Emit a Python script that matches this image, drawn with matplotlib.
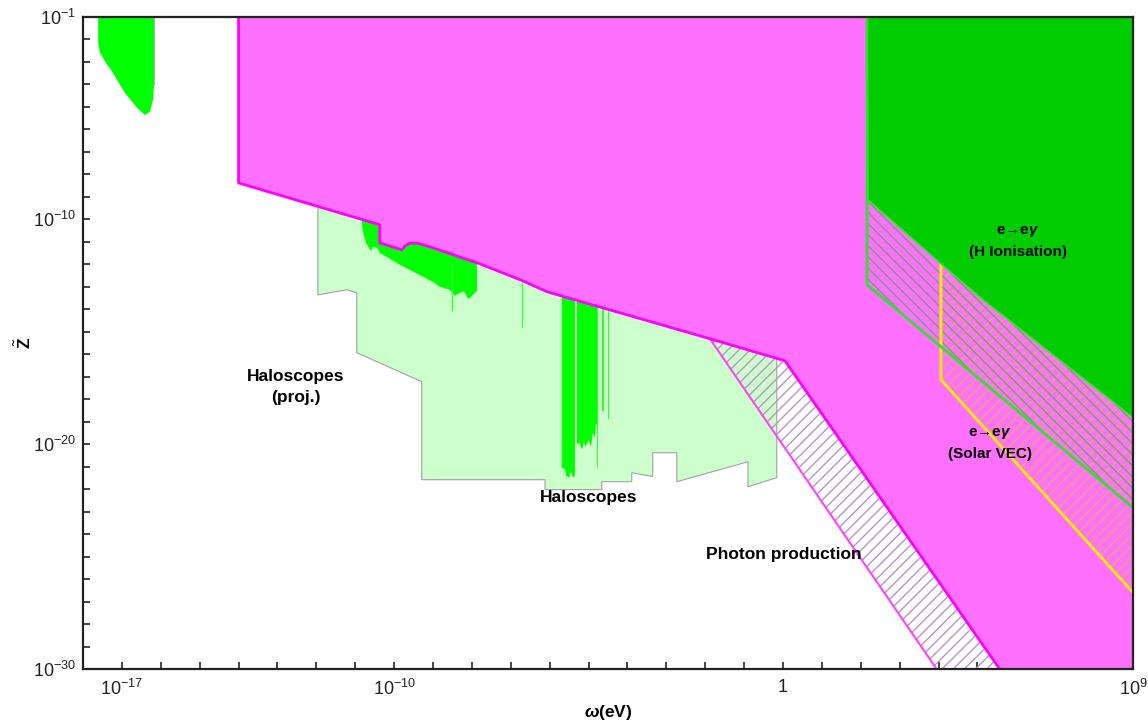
import numpy as np
import matplotlib
matplotlib.use("Agg")
import matplotlib.pyplot as plt
from matplotlib.ticker import FixedLocator, FuncFormatter, NullLocator

plt.rcParams.update({
    "font.family": ["Liberation Sans", "DejaVu Sans"],
    "mathtext.fontset": "custom",
    "mathtext.rm": "Liberation Sans",
    "mathtext.it": "Liberation Sans:italic:bold",
    "mathtext.bf": "Liberation Sans:bold",
    "hatch.linewidth": 1.0,
})

# all values are exponents: log10(omega / eV), log10(Z~)
# photon production bound (magenta), lower edge
mag_x = [-14.0, -14.0, -10.37, -10.37, -9.80, -9.72, -9.60, -9.40, -9.08, -7.87, -6.71, -6.07, -1.88, 0.05, 5.57]
mag_y = [-1.0, -8.38, -10.24, -11.04, -11.36, -11.18, -11.06, -11.06, -11.22, -11.93, -12.72, -13.22, -15.31, -16.29, -30.0]

# photon production, hatched band
php_x = [-1.88, 0.05, 5.57, 3.95]
php_y = [-15.31, -16.29, -30.0, -30.0]

# haloscopes (projected), light green
hpr_x = [-11.96, -11.96, -11.21, -10.96, -10.96, -9.29, -9.29, -6.12, -6.12, -4.66, -4.66, -3.89, -3.89,
         -3.35, -3.35, -2.73, -2.73, -0.90, -0.90, -0.16, -0.16]
hpr_y = [-6.9, -13.36, -13.13, -13.27, -15.93, -17.22, -21.58, -21.58, -22.02, -22.02, -21.67, -21.67, -21.27,
         -21.44, -20.38, -20.38, -21.67, -20.78, -21.89, -21.49, -6.9]

# existing limits, bright green
blob_x = [-17.61, -17.61, -17.56, -17.38, -17.31, -16.92, -16.61, -16.41, -16.28, -16.20, -16.17, -16.17]
blob_y = [-1.0, -2.16, -2.60, -3.13, -3.27, -4.38, -5.04, -5.36, -5.22, -4.69, -4.02, -1.0]

band_x = [-10.83, -10.37, -7.87, -7.87, -8.05, -8.10, -8.20, -8.31, -8.44, -8.57, -8.82, -9.00, -9.85,
          -10.37, -10.44, -10.54, -10.60, -10.65, -10.72, -10.78, -10.83]
band_y = [-9.80, -9.93, -11.58, -13.18, -13.49, -13.53, -13.20, -13.27, -13.40, -13.13, -13.0, -12.78, -12.02,
          -11.49, -11.27, -11.22, -11.40, -11.27, -11.04, -10.69, -10.24]

bar1_x = [-5.69, -5.35, -5.35, -5.40, -5.45, -5.50, -5.58, -5.60, -5.69]
bar1_y = [-12.5, -12.5, -21.40, -21.49, -21.22, -21.49, -21.40, -21.13, -21.04]

bar2_x = [-5.30, -4.76, -4.76, -4.81, -4.84, -4.89, -4.94, -5.00, -5.07, -5.12, -5.17, -5.24, -5.30]
bar2_y = [-12.5, -12.5, -19.04, -19.13, -19.71, -19.49, -20.11, -19.80, -20.11, -19.93, -20.24, -19.93, -20.02]

spike_x = [-8.51, -6.71, -4.63, -4.50, -4.78]
spike_y = [-14.02, -14.78, -18.47, -18.82, -21.0]
spike_w = [1.0, 0.8, 1.6, 0.8, 0.7]

# e -> e gamma, H ionisation
hion_x = [2.16, 9.0, 9.0, 2.16]
hion_y = [-1.0, -1.0, -22.82, -12.91]
hdark_x = [2.16, 9.0, 9.0, 5.14, 4.03, 2.18]
hdark_y = [-1.0, -1.0, -18.82, -13.58, -11.93, -9.13]

# e -> e gamma, solar VEC
svec_x = [4.06, 9.0, 9.0, 4.06]
svec_y = [-1.0, -1.0, -26.6, -17.13]
svec_line_x = [4.06, 4.06, 9.0]
svec_line_y = [-11.93, -17.13, -26.6]

xlabels = {-17: r"$10^{-17}$", -10: r"$10^{-10}$", 0: "1", 9: r"$10^{9}$"}
ylabels = {-1: r"$10^{-1}$", -10: r"$10^{-10}$", -20: r"$10^{-20}$", -30: r"$10^{-30}$"}


def p(v):
    return 10.0 ** np.asarray(v, dtype=float)


fig = plt.figure(figsize=(11.48, 7.22), dpi=100)
ax = fig.add_axes([83 / 1148, 53 / 722, 1050 / 1148, 652 / 722])
ax.set_xscale("log"); ax.set_yscale("log")

ax.fill(p(hpr_x), p(hpr_y), facecolor="#CCFFCC", edgecolor="#A0A0A0", lw=0.8, zorder=1)
for xs, ys in [(blob_x, blob_y), (band_x, band_y), (bar1_x, bar1_y), (bar2_x, bar2_y)]:
    ax.fill(p(xs), p(ys), facecolor="#00FF00", edgecolor="none", zorder=2)
for sx, sy, sw in zip(spike_x, spike_y, spike_w):
    ax.plot(p([sx, sx]), p([-12.0, sy]), color="#33FF33", lw=sw, zorder=2)
ax.plot(p([-16.17, -16.17]), p([-1.0, -4.02]), color="#B0B0B0", lw=0.8, zorder=2)

ax.fill(p(mag_x + [9.0, 9.0]), p(mag_y + [-30.0, -1.0]), facecolor="#FF70FF", edgecolor="none", zorder=3)
ax.fill(p(php_x), p(php_y), fill=False, hatch="///", edgecolor="#B496C8", lw=0, zorder=3.5)
ax.plot(p(php_x[:1] + php_x[3:]), p(php_y[:1] + php_y[3:]), color="#FF44FF", lw=1.5, zorder=3.6)

ax.fill(p(svec_x), p(svec_y), fill=False, hatch="///", edgecolor="#E2A868", lw=0, zorder=4)
ax.fill(p(hion_x), p(hion_y), fill=False, hatch="\\\\\\", edgecolor="#70A070", lw=0, zorder=4.1)
ax.plot(p(svec_line_x), p(svec_line_y), color="#FFEE00", lw=2, zorder=4.5)
ax.fill(p(hdark_x), p(hdark_y), facecolor="#00CC00", edgecolor="#44DD44", lw=1.2, zorder=5)
ax.plot(p([2.16, 2.16, 9.0]), p([-1.0, -12.91, -22.82]), color="#33DD33", lw=2, zorder=6)

ax.plot(p(mag_x), p(mag_y), color="#FF00FF", lw=2, zorder=6)

tk = dict(ha="center", va="center", fontweight="bold", zorder=8)
ax.text(p(-12.52), p(-17.44), "Haloscopes\n(proj.)", fontsize=12.5, linespacing=1.5, **tk)
ax.text(p(-4.99), p(-22.38), "Haloscopes", fontsize=12.5, **tk)
ax.text(p(0.02), p(-24.91), "Photon production", fontsize=12.5, **tk)
ax.text(p(6.04), p(-10.98), "e→e$\\mathit{\\gamma}$\n(H Ionisation)", fontsize=11, linespacing=1.5, **tk)
ax.text(p(5.32), p(-19.96), "e→e$\\mathit{\\gamma}$\n(Solar VEC)", fontsize=11, linespacing=1.5, **tk)

ax.set_xlim(1e-18, 1e9); ax.set_ylim(1e-30, 1e-1)
ax.xaxis.set_major_locator(FixedLocator(p(np.arange(-18, 10))))
ax.yaxis.set_major_locator(FixedLocator(p(np.arange(-30, 0))))
ax.xaxis.set_minor_locator(NullLocator()); ax.yaxis.set_minor_locator(NullLocator())
ax.xaxis.set_major_formatter(FuncFormatter(lambda v, i: xlabels.get(int(round(np.log10(v))), "")))
ax.yaxis.set_major_formatter(FuncFormatter(lambda v, i: ylabels.get(int(round(np.log10(v))), "")))
ax.tick_params(direction="in", length=5, width=1.2, labelsize=13, colors="#222222", top=False, right=False)
ax.tick_params(axis="x", pad=7)
ax.tick_params(axis="y", pad=5)
for s in ax.spines.values():
    s.set_linewidth(1.6); s.set_color("#222222"); s.set_zorder(10)

ax.set_xlabel(r"$\mathit{\omega}$(eV)", fontsize=12.5, fontweight="bold")
ax.set_ylabel(r"$\tilde{\mathbf{Z}}$", fontsize=12.5)
ax.xaxis.set_label_coords(0.5, -0.052)
ax.yaxis.set_label_coords(-0.047, 0.5)

fig.savefig("out.png", dpi=100)
